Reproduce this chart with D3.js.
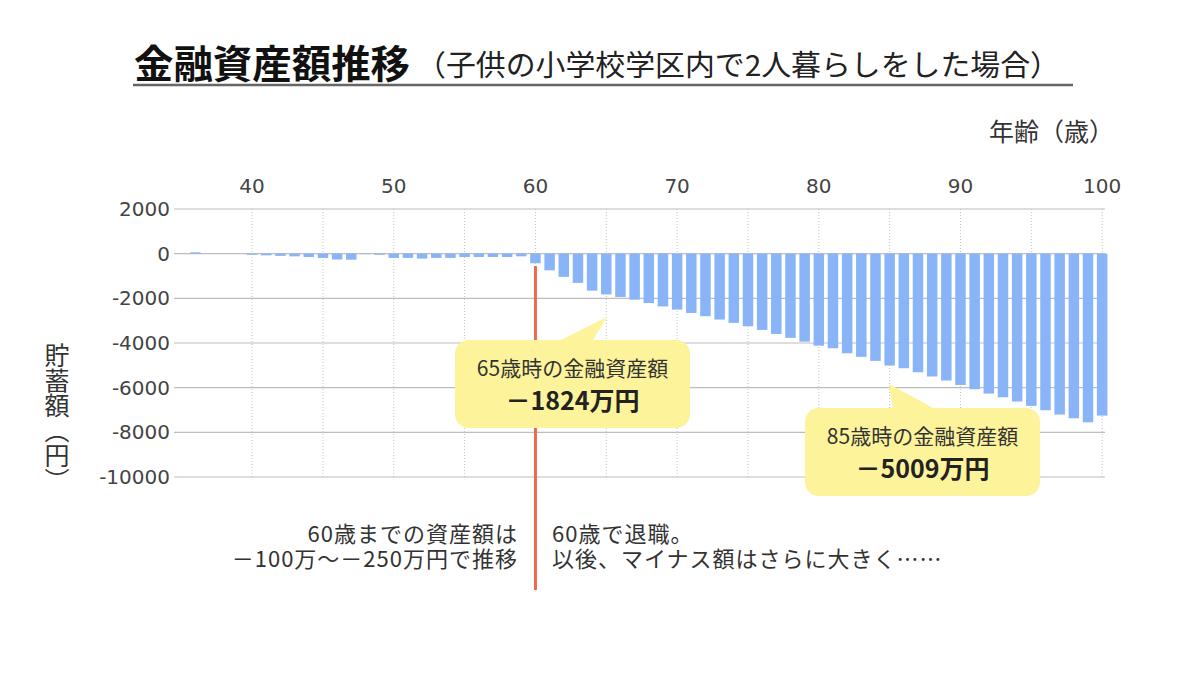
<!DOCTYPE html>
<html>
<head>
<meta charset="utf-8">
<script src="https://cdn.jsdelivr.net/npm/d3@7"></script>
<style>
  body { margin: 0; background: #fff; }
  svg { display: block; }
</style>
</head>
<body>
<div id="chart"></div>
<script>
// ages on the x axis, one bar per age
const ages = d3.range(35, 101);
// 金融資産額 (万円) per age
const assets = [
  0, 60, 0, 0, 0, -50, -75, -100, -120, -150,
  -190, -260, -270, -20, -50, -190, -190, -220, -190, -190,
  -150, -150, -150, -150, -120, -430, -745, -1040, -1310, -1655,
  -1824, -1940, -2060, -2210, -2360, -2505, -2655, -2800, -2950, -3100,
  -3250, -3415, -3595, -3770, -3940, -4120, -4235, -4460, -4620, -4800,
  -5009, -5130, -5310, -5500, -5680, -5880, -6070, -6265, -6430, -6620,
  -6815, -7010, -7205, -7370, -7550, -7250
];
const xTicks = [40, 50, 60, 70, 80, 90, 100];
const xGrid = [40, 45, 50, 55, 60, 65, 70, 75, 80, 85, 90, 95, 100];
const yTicks = [2000, 0, -2000, -4000, -6000, -8000, -10000];

const title = "金融資産額推移";
const subtitle = "（子供の小学校学区内で2人暮らしをした場合）";
const callouts = [
  { age: 65, line1: "65歳時の金融資産額", line2: "－1824万円" },
  { age: 85, line1: "85歳時の金融資産額", line2: "－5009万円" }
];
const notesLeft = ["60歳までの資産額は", "－100万～－250万円で推移"];
const notesRight = ["60歳で退職。", "以後、マイナス額はさらに大きく……"];
const retireAge = 60;

const width = 1200, height = 680;
const jp = "'Noto Sans CJK JP', 'Noto Sans', sans-serif";
const num = "'DejaVu Sans', Verdana, sans-serif";

const svg = d3.select("#chart")
  .append("svg")
  .attr("width", width)
  .attr("height", height);

const x = d3.scaleLinear().domain([34.7, 100.2]).range([177, 1105]);
const y = d3.scaleLinear().domain([-10000, 2000]).range([477, 209]);
const barW = (x(1) - x(0)) * 0.74;

// title + underline
svg.append("text")
  .attr("x", 134).attr("y", 78)
  .attr("font-family", jp).attr("font-size", 39).attr("font-weight", "bold")
  .attr("fill", "#111")
  .attr("textLength", 276).attr("lengthAdjust", "spacingAndGlyphs")
  .text(title);
svg.append("text")
  .attr("x", 416).attr("y", 76)
  .attr("font-family", jp).attr("font-size", 29)
  .attr("fill", "#222")
  .attr("textLength", 644).attr("lengthAdjust", "spacingAndGlyphs")
  .text(subtitle);
svg.append("line")
  .attr("x1", 133).attr("x2", 1073).attr("y1", 85).attr("y2", 85)
  .attr("stroke", "#666").attr("stroke-width", 2.5);

// axis titles
svg.append("text")
  .attr("x", 1114).attr("y", 141)
  .attr("text-anchor", "end")
  .attr("font-family", jp).attr("font-size", 25).attr("fill", "#333")
  .text("年齢（歳）");
svg.append("text")
  .attr("x", 57).attr("y", 343)
  .style("writing-mode", "vertical-rl")
  .attr("font-family", jp).attr("font-size", 25).attr("fill", "#333")
  .text("貯蓄額（円）");

// grid
svg.append("g")
  .selectAll("line")
  .data(xGrid)
  .join("line")
  .attr("x1", d => x(d)).attr("x2", d => x(d))
  .attr("y1", y(2000)).attr("y2", y(-10000))
  .attr("stroke", "#c4c4c4").attr("stroke-dasharray", "1,2");

svg.append("g")
  .selectAll("line")
  .data(yTicks)
  .join("line")
  .attr("x1", 174).attr("x2", 1105)
  .attr("y1", d => y(d)).attr("y2", d => y(d))
  .attr("stroke", "#bdbdbd").attr("stroke-width", 1.2);

// tick labels
svg.append("g")
  .selectAll("text")
  .data(yTicks)
  .join("text")
  .attr("x", 170).attr("y", d => y(d) + 7)
  .attr("text-anchor", "end")
  .attr("font-family", num).attr("font-size", 20).attr("fill", "#444")
  .text(d => d);

svg.append("g")
  .selectAll("text")
  .data(xTicks)
  .join("text")
  .attr("x", d => x(d)).attr("y", 193)
  .attr("text-anchor", "middle")
  .attr("font-family", num).attr("font-size", 20).attr("fill", "#444")
  .text(d => d);

// bars
svg.append("g")
  .selectAll("rect")
  .data(ages.map((a, i) => [a, assets[i]]))
  .join("rect")
  .attr("x", d => x(d[0]) - barW / 2)
  .attr("width", barW)
  .attr("y", d => y(Math.max(0, d[1])))
  .attr("height", d => Math.abs(y(d[1]) - y(0)))
  .attr("fill", "#8ab4f8");

// retirement line
svg.append("line")
  .attr("x1", x(retireAge)).attr("x2", x(retireAge))
  .attr("y1", 266).attr("y2", 590)
  .attr("stroke", "#ef6a4c").attr("stroke-width", 3);

// callout bubbles
const bubbleW = 235, bubbleH = 88;
const bubblePos = [
  { left: 455, top: 340, tail: [[557, 342], [607, 317], [592, 342]] },
  { left: 805, top: 408, tail: [[893, 410], [889, 384], [937, 410]] }
];
callouts.forEach((c, i) => {
  const p = bubblePos[i];
  const g = svg.append("g");
  g.append("rect")
    .attr("x", p.left).attr("y", p.top)
    .attr("width", bubbleW).attr("height", bubbleH)
    .attr("rx", 14)
    .attr("fill", "#fdf39b");
  g.append("polygon")
    .attr("points", p.tail.map(pt => pt.join(",")).join(" "))
    .attr("fill", "#fdf39b");
  const t = g.append("text")
    .attr("text-anchor", "middle")
    .attr("font-family", jp);
  t.append("tspan")
    .attr("x", p.left + bubbleW / 2).attr("y", p.top + 36)
    .attr("font-size", 21).attr("fill", "#333")
    .text(c.line1);
  t.append("tspan")
    .attr("x", p.left + bubbleW / 2).attr("y", p.top + 70)
    .attr("font-size", 25).attr("font-weight", "bold").attr("fill", "#222")
    .text(c.line2);
});

// notes under the chart (each block as one text with two lines)
const noteL = svg.append("text")
  .attr("text-anchor", "end")
  .attr("font-family", jp).attr("font-size", 22).attr("fill", "#333")
  .attr("letter-spacing", 1);
noteL.selectAll("tspan")
  .data(notesLeft)
  .join("tspan")
  .attr("x", 518).attr("y", (d, i) => 542 + i * 25)
  .text(d => d);

const noteR = svg.append("text")
  .attr("font-family", jp).attr("font-size", 22).attr("fill", "#333")
  .attr("letter-spacing", 1);
noteR.selectAll("tspan")
  .data(notesRight)
  .join("tspan")
  .attr("x", 552).attr("y", (d, i) => 542 + i * 25)
  .text(d => d);
</script>
</body>
</html>
